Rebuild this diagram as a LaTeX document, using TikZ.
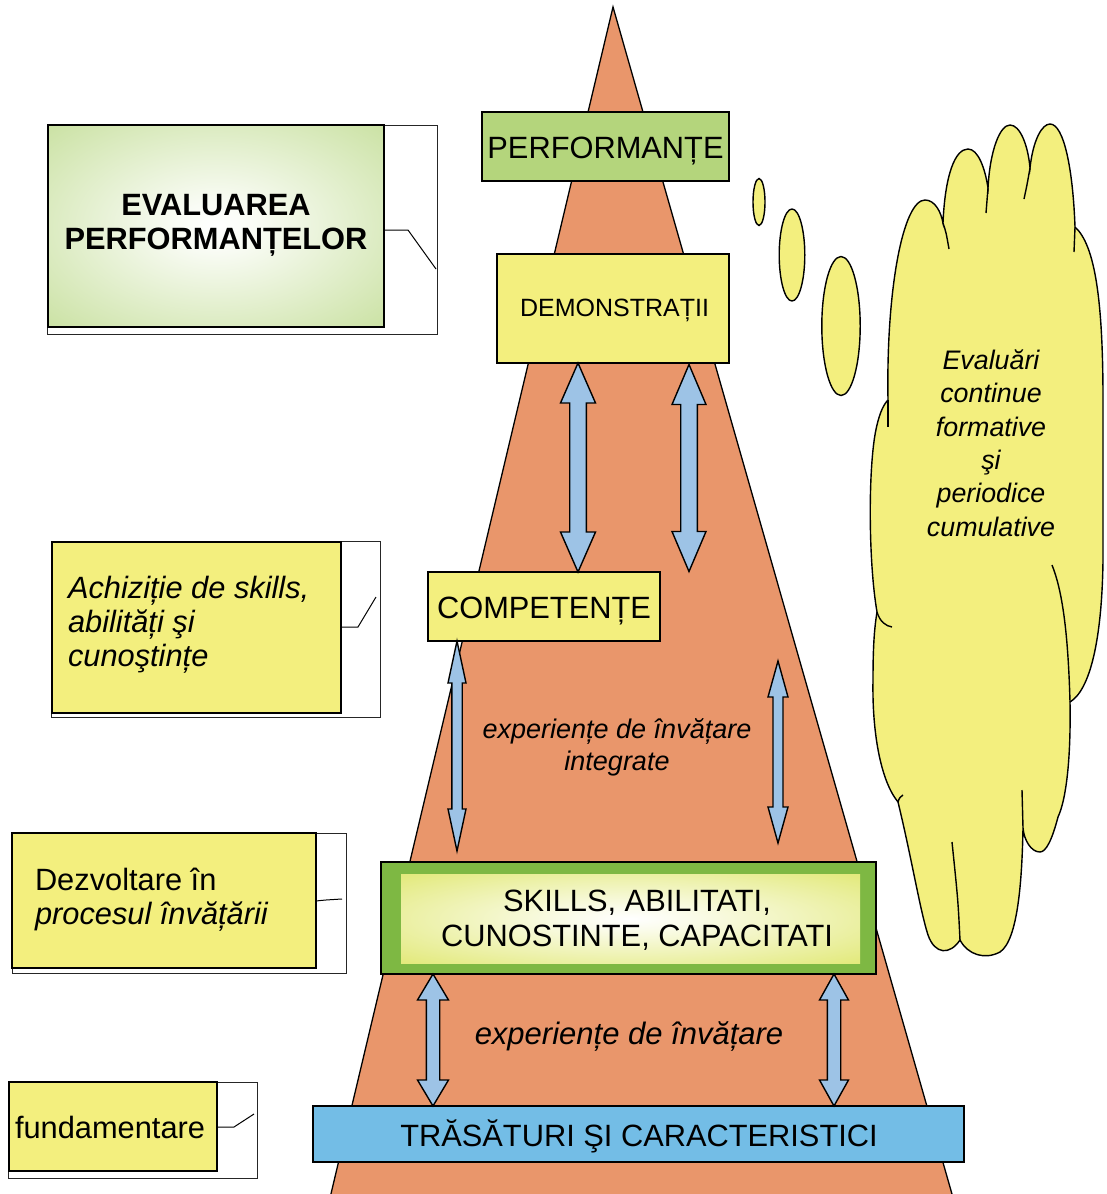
\documentclass[tikz,border=0pt]{standalone}
\usepackage{fontspec}
\setmainfont{Liberation Sans}
\usetikzlibrary{calc}

\definecolor{pyr}{HTML}{E9966B}
\definecolor{lemon}{HTML}{F3EF7E}
\definecolor{leaf}{HTML}{B4D57C}
\definecolor{grass}{HTML}{7EB843}
\definecolor{sky}{HTML}{73BDE6}
\definecolor{arrowblue}{HTML}{9DC3E6}
\definecolor{lime}{HTML}{D6E042}

\pgfdeclareradialshading{glowgreen}{\pgfpoint{0bp}{0bp}}{%
  color(0bp)=(white); color(6bp)=(white!92!leaf); color(50bp)=(leaf); color(72bp)=(leaf)}
\pgfdeclareradialshading{glowlime}{\pgfpoint{0bp}{0bp}}{%
  color(0bp)=(white); color(6bp)=(white!90!lime); color(50bp)=(lime); color(72bp)=(lime)}

% double-headed block arrow between two named points on one vertical
% #1 top point, #2 bottom point, #3 head half width, #4 head length, #5 shaft half width
\newcommand{\dblarrow}[5]{%
  \draw[arrowbody] let \p1=(#1), \p2=(#2) in
    (\x1,\y1) -- (\x1+#3pt,\y1-#4pt) -- (\x1+#5pt,\y1-#4pt) -- (\x1+#5pt,\y2+#4pt)
    -- (\x1+#3pt,\y2+#4pt) -- (\x1,\y2) -- (\x1-#3pt,\y2+#4pt) -- (\x1-#5pt,\y2+#4pt)
    -- (\x1-#5pt,\y1-#4pt) -- (\x1-#3pt,\y1-#4pt) -- cycle;}

\begin{document}
\begin{tikzpicture}[x=1pt,y=-1pt,
  box/.style={draw=black, line width=1.3pt, inner sep=0pt, outer sep=0pt},
  frame/.style={draw=black!85, line width=1pt, fill=white, inner sep=0pt, outer sep=0pt, anchor=north west},
  lead/.style={draw=black, line width=1pt},
  arrowbody/.style={draw=black, line width=1.4pt, fill=arrowblue, line join=miter},
  txt/.style={inner sep=0pt, outer sep=0pt, align=center, font=\fontsize{30.8}{34.5}\selectfont},
  ltxt/.style={inner sep=0pt, outer sep=0pt, align=left, anchor=west, font=\fontsize{30.8}{34}\selectfont},
  cloudline/.style={draw=black, line width=1.4pt},
]
\useasboundingbox (0,0) rectangle (1107,1194);
\fill[white] (0,0) rectangle (1107,1194);

% pyramid
\draw[fill=pyr, line width=1.3pt, line join=miter] (329.5,1200) -- (613,7) -- (953.7,1200);

% boxes on the pyramid
\node[box, fill=leaf, minimum width=247, minimum height=69] (perf) at (605.5,146.5) {};
\node[box, fill=lemon, minimum width=232, minimum height=109] (demo) at (613,308.5) {};
\node[box, fill=lemon, minimum width=232, minimum height=69] (comp) at (544,606.5) {};
\node[box, fill=grass, minimum width=495, minimum height=112] (skill) at (628.5,918) {};
\node[inner sep=0pt, shade, shading=glowlime, minimum width=459, minimum height=89] (skillin) at (630.5,918.5) {};
\node[box, fill=sky, minimum width=651, minimum height=56] (trait) at (638.5,1134) {};

% arrow end points
\coordinate (a1) at (578,0);
\coordinate (a2t) at (689,364.5);
\coordinate (a2b) at (689,571.5);
\coordinate (a3) at (457,0);
\coordinate (a3b) at (457,851);
\coordinate (a4t) at (778,661);
\coordinate (a4b) at (778,843);
\coordinate (a5) at (433,0);
\coordinate (a6) at (834,0);

\dblarrow{demo.south -| a1}{comp.north -| a1}{17.5}{40}{8.3}
\dblarrow{a2t}{a2b}{17}{40}{8.3}
\dblarrow{comp.south -| a3}{a3b}{9}{42}{5.2}
\dblarrow{a4t}{a4b}{10}{36}{5}
\dblarrow{skill.south -| a5}{trait.north -| a5}{15.5}{26}{6.7}
\dblarrow{skill.south -| a6}{trait.north -| a6}{14.5}{26}{6.7}

% labels of the pyramid
\node[txt] at (605.5,151) {PERFORMANȚE};
\node[txt, font=\fontsize{25}{30}\selectfont] at (614.5,310) {DEMONSTRAȚII};
\node[txt] at (544,611.5) {COMPETENȚE};
\node[txt] at (637,920) {SKILLS, ABILITATI,\\CUNOSTINTE, CAPACITATI};
\node[txt] at (639,1136) {TRĂSĂTURI ŞI CARACTERISTICI};
\node[txt, font=\itshape\fontsize{27}{32}\selectfont] at (617,747) {experiențe de învățare\\integrate};
\node[txt, font=\itshape\fontsize{31}{35}\selectfont] at (629,1037) {experiențe de învățare};

% callouts on the left
\node[frame, minimum width=390, minimum height=209] (f1) at (47,125) {};
\node[box, shade, shading=glowgreen, minimum width=336, minimum height=202, anchor=north west] (eval) at (48,125) {};
\node[txt, font=\bfseries\fontsize{30.8}{34}\selectfont] at (216,225) {EVALUAREA\\PERFORMANȚELOR};
\coordinate (l1a) at (408,230);
\coordinate (l1b) at (436,269);
\draw[lead] (eval.east |- l1a) -- (l1a) -- (l1b);

\node[frame, minimum width=329, minimum height=176] (f2) at (51,541) {};
\node[box, fill=lemon, minimum width=289, minimum height=171, anchor=north west] (acq) at (52,542) {};
\node[ltxt, font=\itshape\fontsize{30.8}{34}\selectfont] at (68,625) {Achiziție de skills,\\abilități şi\\cunoştințe};
\coordinate (l2a) at (358,627);
\coordinate (l2b) at (376,597);
\draw[lead] (acq.east |- l2a) -- (l2a) -- (l2b);

\node[frame, minimum width=334, minimum height=140] (f3) at (12,833) {};
\node[box, fill=lemon, minimum width=304, minimum height=135, anchor=north west] (dev) at (12,833) {};
\node[ltxt] at (35,900) {Dezvoltare în\\\textit{procesul învățării}};
\coordinate (l3s) at (316,901);
\coordinate (l3a) at (342,899);
\draw[lead] (l3s) .. controls (325,900) .. (l3a);

\node[frame, minimum width=249, minimum height=96] (f4) at (8,1082) {};
\node[box, fill=lemon, minimum width=208, minimum height=89, anchor=north west] (fund) at (9,1082) {};
\node[ltxt] at (15,1127) {fundamentare};
\coordinate (l4a) at (234,1127);
\coordinate (l4b) at (254,1114);
\draw[lead] (fund.east |- l4a) -- (l4a) -- (l4b);

% thought bubbles
\draw[cloudline, fill=lemon] (759,202) ellipse [x radius=6, y radius=23.5];
\draw[cloudline, fill=lemon] (792,255) ellipse [x radius=12.8, y radius=46];
\draw[cloudline, fill=lemon] (841,326) ellipse [x radius=19.2, y radius=69.5];

% cloud
\draw[cloudline, fill=lemon]
  (888,400)
  .. controls (886,290) and (903,200) .. (925,200)
  .. controls (935,200) and (941,212) .. (943,223)
  .. controls (945,175) and (955,149) .. (968,149)
  .. controls (978,149) and (985,168) .. (988,188)
  .. controls (990,150) and (1000,125) .. (1010,125)
  .. controls (1020,125) and (1028,145) .. (1030,168)
  .. controls (1033,140) and (1042,124) .. (1050,124)
  .. controls (1064,124) and (1073,170) .. (1075,227)
  .. controls (1095,245) and (1103,300) .. (1103,400)
  -- (1103,560)
  .. controls (1102,640) and (1090,690) .. (1070,702)
  .. controls (1071,760) and (1066,800) .. (1058,817)
  .. controls (1052,840) and (1046,852) .. (1040,852)
  .. controls (1031,852) and (1024,840) .. (1023,828)
  .. controls (1022,880) and (1018,940) .. (1000,952)
  .. controls (985,960) and (968,955) .. (960,940)
  .. controls (950,955) and (935,955) .. (928,935)
  .. controls (920,910) and (912,860) .. (898,802)
  .. controls (880,780) and (872,730) .. (873,680)
  .. controls (873,650) and (874,630) .. (877,612)
  .. controls (868,560) and (868,460) .. (877,425)
  .. controls (880,412) and (884,404) .. (888,400)
  -- cycle;
\draw[cloudline] (943,223) .. controls (946,232) .. (949,249);
\draw[cloudline] (988,188) .. controls (987,200) .. (986,213);
\draw[cloudline] (1030,168) .. controls (1027,185) .. (1024,199);
\draw[cloudline] (1075,227) -- (1074,252);
\draw[cloudline] (1070,702) .. controls (1068,630) and (1062,590) .. (1052,565);
\draw[cloudline] (1023,828) -- (1022,790);
\draw[cloudline] (960,940) .. controls (958,900) .. (952,842);
\draw[cloudline] (877,612) .. controls (880,622) and (886,626) .. (892,627);
\draw[cloudline] (898,802) .. controls (899,798) and (901,796) .. (903,795);
\draw[cloudline] (888,400) -- (888,427);

\node[txt, font=\itshape\fontsize{26.8}{33.4}\selectfont] (cloudtxt) at (991,443)
  {Evaluări\\continue\\formative\\şi\\periodice\\cumulative};
\end{tikzpicture}
\end{document}
